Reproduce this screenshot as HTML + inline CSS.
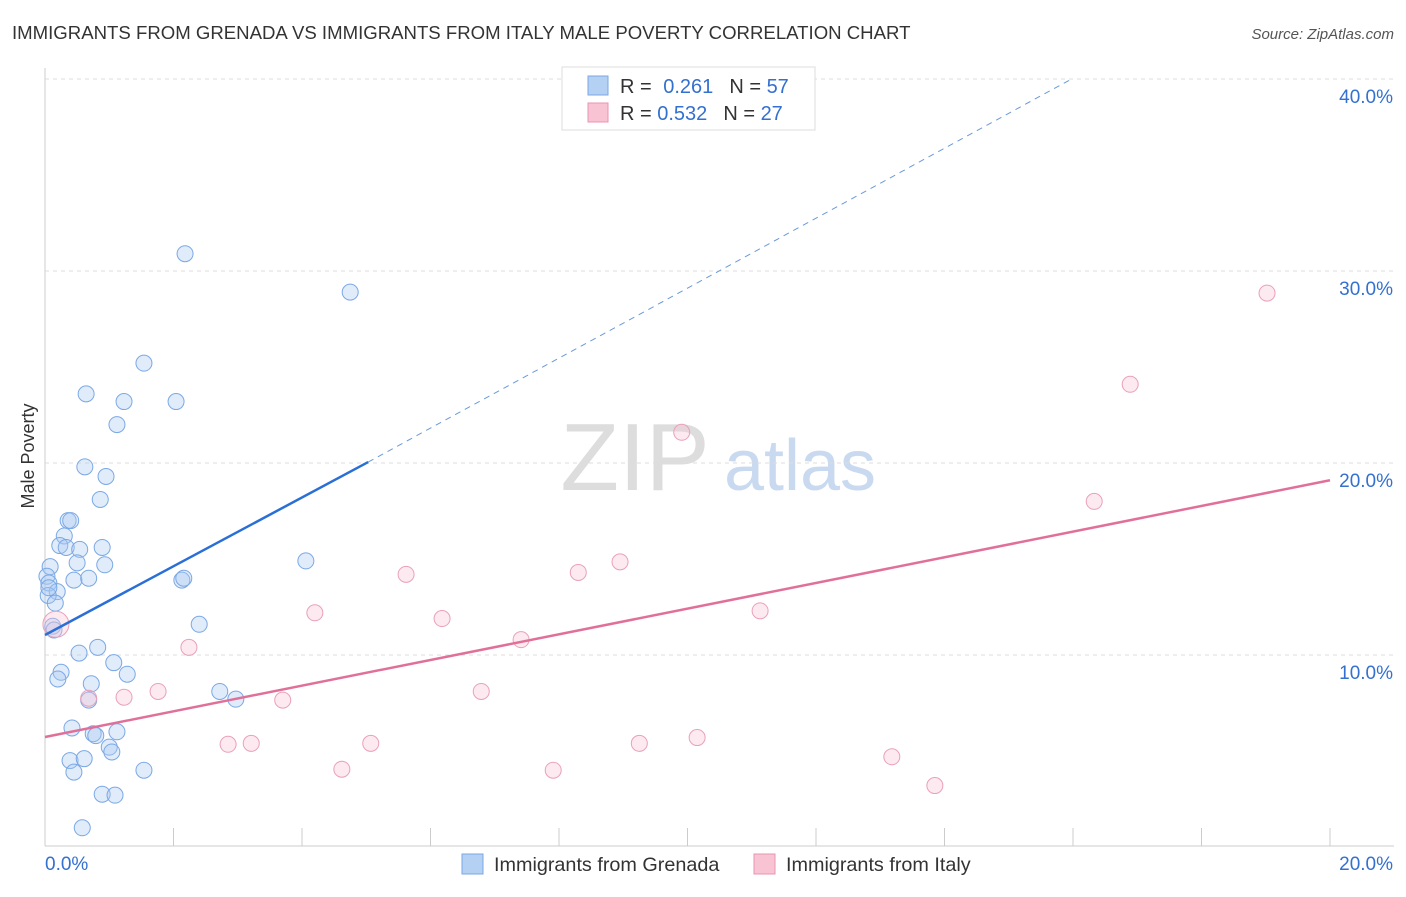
<!DOCTYPE html>
<html><head><meta charset="utf-8"><style>
body{margin:0;background:#fff;font-family:"Liberation Sans",sans-serif;}
svg text{font-family:"Liberation Sans",sans-serif;}
</style></head><body>
<svg id="c" width="1406" height="892" xmlns="http://www.w3.org/2000/svg">
<text x="12" y="39" font-size="18.6" fill="#333">IMMIGRANTS FROM GRENADA VS IMMIGRANTS FROM ITALY MALE POVERTY CORRELATION CHART</text>
<text x="1394" y="39" font-size="15" fill="#555" font-style="italic" text-anchor="end">Source: ZipAtlas.com</text>
<text x="34" y="456" font-size="18" fill="#333" transform="rotate(-90 34 456)" text-anchor="middle">Male Poverty</text>
<g><text x="635" y="490" font-size="96" fill="#ddd" font-family="Liberation Serif" text-anchor="middle">ZIP</text><text x="800" y="490" font-size="72" fill="#c9daf0" text-anchor="middle">atlas</text></g>
<g id="grid"></g><g id="marks"></g>
<g>
<rect x="562" y="67" width="253" height="63" fill="#fff" stroke="#ddd"/>
<rect x="588" y="76" width="20" height="19" fill="#b4d0f3" stroke="#7aa8e6"/>
<rect x="588" y="103" width="20" height="19" fill="#f8c4d4" stroke="#e895b0"/>
<text x="620" y="93" font-size="20" fill="#333">R = <tspan fill="#3370d0" dx="6">0.261</tspan><tspan fill="#333" dx="16">N = </tspan><tspan fill="#3370d0">57</tspan></text>
<text x="620" y="120" font-size="20" fill="#333">R = <tspan fill="#3370d0">0.532</tspan><tspan fill="#333" dx="16">N = </tspan><tspan fill="#3370d0">27</tspan></text>
</g>
<g>
<rect x="462" y="854" width="21" height="20" fill="#b4d0f3" stroke="#7aa8e6"/>
<text x="494" y="871" font-size="19.8" fill="#333">Immigrants from Grenada</text>
<rect x="754" y="854" width="21" height="20" fill="#f8c4d4" stroke="#e895b0"/>
<text x="786" y="871" font-size="19.8" fill="#333">Immigrants from Italy</text>
</g>
</svg>
<script>
const yTicks=[10,20,30,40];
const xTickLabels=["0.0%","20.0%"];
const blueX=[2.18,4.75,1.54,0.64,1.23,2.04,1.12,0.62,0.95,0.86,0.36,0.40,0.30,0.23,0.33,0.89,0.54,0.50,0.93,0.08,0.03,0.45,0.68,2.13,2.16,4.06,0.06,0.19,0.05,0.16,2.40,0.12,0.14,0.82,0.53,1.07,0.25,1.28,0.20,0.72,2.72,2.97,0.68,0.42,0.75,0.79,1.12,1.00,1.04,0.39,0.61,0.45,1.54,0.89,1.09,0.58,0.06];
const blueY=[30.9,28.9,25.2,23.6,23.2,23.2,22.0,19.8,19.3,18.1,17.0,17.0,16.2,15.7,15.6,15.6,15.5,14.8,14.7,14.6,14.1,13.9,14.0,13.9,14.0,14.9,13.75,13.3,13.1,12.7,11.6,11.5,11.3,10.4,10.1,9.6,9.1,9.0,8.75,8.5,8.1,7.7,7.65,6.2,5.9,5.8,6.0,5.2,4.95,4.5,4.6,3.9,4.0,2.75,2.7,1.0,13.5];
const pinkX=[0.17,19.02,16.89,9.91,16.33,8.95,5.62,8.30,4.20,6.18,11.13,7.41,2.24,0.68,1.23,1.76,3.70,6.79,2.85,3.21,5.07,9.25,10.15,4.62,7.91,13.18,13.85];
const pinkY=[11.6,28.85,24.1,21.6,18.0,14.85,14.2,14.3,12.2,11.9,12.3,10.8,10.4,7.75,7.8,8.1,7.65,8.1,5.35,5.4,5.4,5.4,5.7,4.05,4.0,4.7,3.2];
const blueLine=[[0,11.04],[5.03,20.05],[15.98,40.0]];
const pinkLine=[[0,5.73],[20,19.1]];
const X=v=>45+v*64.25, Y=v=>847-v*19.2;
const NS="http://www.w3.org/2000/svg";
function mk(p,t,a){const e=document.createElementNS(NS,t);for(const k in a)e.setAttribute(k,a[k]);p.appendChild(e);return e;}
const g=document.getElementById('grid'), m=document.getElementById('marks');
mk(g,'line',{x1:45,y1:68,x2:45,y2:846,stroke:'#ccc'});
mk(g,'line',{x1:45,y1:846,x2:1394,y2:846,stroke:'#ccc'});
for(let i=0;i<=10;i++){const l=mk(g,'line',{x1:X(i*2),x2:X(i*2),y1:828,y2:846,stroke:'#ccc'});}
yTicks.forEach(t=>{const l=mk(g,'line',{x1:45,x2:1394,y1:Y(t),y2:Y(t),stroke:'#ddd','stroke-dasharray':'4 4'});
const tx=mk(g,'text',{x:1393,y:Y(t)+24,'font-size':19,fill:'#3370d0','text-anchor':'end'});tx.textContent=t.toFixed(1)+'%';});
[[45,'start',0],[1393,'end',1]].forEach(([x,a,i])=>{const t=mk(g,'text',{x:x,y:870,'font-size':19,fill:'#3370d0','text-anchor':a});t.textContent=xTickLabels[i];});
blueX.forEach((v,i)=>{const c=mk(m,'circle',{cx:X(v),cy:Y(blueY[i]),r:8,fill:'rgba(170,200,240,0.35)',stroke:'#7aa8e6','stroke-width':1});});
pinkX.forEach((v,i)=>{const c=mk(m,'circle',{cx:X(v),cy:Y(pinkY[i]),r:i==0?13:8,fill:'rgba(248,195,212,0.35)',stroke:'#eaa0b8','stroke-width':1});});
let l=mk(m,'line',{x1:X(blueLine[0][0]),y1:Y(blueLine[0][1]),x2:X(blueLine[1][0]),y2:Y(blueLine[1][1]),stroke:'#2a6fd6','stroke-width':2.5});

l=mk(m,'line',{x1:X(blueLine[1][0]),y1:Y(blueLine[1][1]),x2:X(blueLine[2][0]),y2:Y(blueLine[2][1]),stroke:'#6a9ad8','stroke-width':1,'stroke-dasharray':'6 5'});

l=mk(m,'line',{x1:X(pinkLine[0][0]),y1:Y(pinkLine[0][1]),x2:X(pinkLine[1][0]),y2:Y(pinkLine[1][1]),stroke:'#e0709a','stroke-width':2.5});

</script>
</body></html>
